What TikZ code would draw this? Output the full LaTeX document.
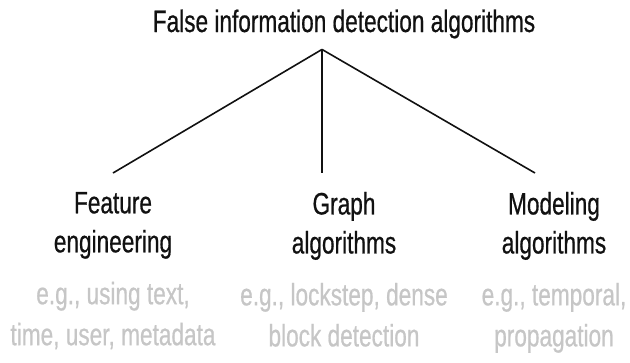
\documentclass[tikz,border=0pt]{standalone}
\usepackage{fontspec}
\setmainfont{Liberation Sans}[FakeStretch=0.73,FakeBold=0.6]
\usepackage{tikz}
\usetikzlibrary{positioning}
\definecolor{InkBlack}{HTML}{111111}
\definecolor{SoftGrey}{HTML}{C6C6C6}

\begin{document}
\begin{tikzpicture}[x=1pt,y=-1pt, node distance=23pt,
 every node/.style={inner sep=0pt,outer sep=0pt,font=\fontsize{31}{39}\selectfont},
 head/.style={anchor=base,text=InkBlack},
 cat/.style={anchor=north,align=center,text=InkBlack},
 ex/.style={align=center,text=SoftGrey,font=\fontsize{31}{41}\selectfont},
 link/.style={line width=1.6pt,draw=InkBlack}]
\useasboundingbox (0,0) rectangle (630,362);
\node[head] (algo) at (344,32) {False information detection algorithms};
\node[cat] (feat) at (113,192) {Feature\\engineering};
\node[cat] (graph) at (344,192) {Graph\\algorithms};
\node[cat] (model) at (554,192) {Modeling\\algorithms};
\node[ex,below=of feat] (featex) {e.g., using text,\\time, user, metadata};
\node[ex,below=of graph] (graphex) {e.g., lockstep, dense\\block detection};
\node[ex,below=of model] (modelex) {e.g., temporal,\\propagation};
\coordinate (apex) at ([xshift=-22pt,yshift=-11pt]algo.south);
\coordinate (featend) at ([yshift=19pt]feat.north);
\coordinate (graphend) at ([yshift=19pt]apex |- graph.north);
\coordinate (modelend) at ([xshift=-19pt,yshift=19pt]model.north);
\draw[link] (apex) -- (featend);
\draw[link] (apex) -- (graphend);
\draw[link] (apex) -- (modelend);
\end{tikzpicture}
\end{document}
